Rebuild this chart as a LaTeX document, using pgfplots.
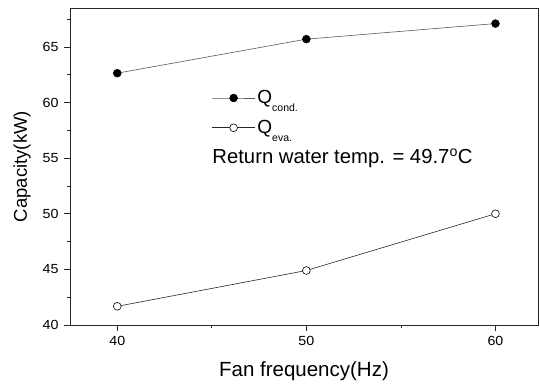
\documentclass[border=0pt]{standalone}
\usepackage{fontspec}
\setmainfont{Liberation Sans}
\newfontfamily\wide{Liberation Sans}[FakeStretch=1.08]
\usepackage{pgfplots}
\pgfplotsset{compat=1.18}
\begin{document}
\begin{tikzpicture}[x=1pt,y=1pt]
\useasboundingbox (-70,-58) rectangle (470,325);
\begin{axis}[
  at={(0,0)}, anchor=south west,
  scale only axis, width=468pt, height=317pt,
  xmin=37.5, xmax=62.25, ymin=40, ymax=68.5,
  xtick={40,50,60}, minor xtick={45,55},
  ytick={40,45,50,55,60,65}, minor ytick={42.5,47.5,52.5,57.5,62.5,67.5},
  tick align=outside, tick pos=left,
  major tick length=6pt, minor tick length=3pt,
  axis line style={black!85, line width=0.8pt},
  every tick/.style={black!85, line width=0.7pt},
  tick label style={font=\wide\fontsize{13.2}{14}\selectfont},
  yticklabel style={xshift=-2pt},
  xticklabel style={yshift=-2pt},
  /pgf/number format/assume math mode=true,
  xlabel={Fan frequency(Hz)}, ylabel={Capacity(kW)},
  xlabel style={font=\fontsize{20.5}{22}\selectfont, at={(axis description cs:0.5,-0.164)}, anchor=base},
  ylabel style={font=\fontsize{18.5}{20}\selectfont, at={(axis description cs:-0.1026,0.5)}, anchor=center},
  legend style={at={(axis cs:44.99,61.27)}, anchor=north west, draw=none, fill=none,
    font=\fontsize{19}{20}\selectfont, row sep=11pt, inner sep=0pt,
    /tikz/every even column/.append style={column sep=4pt}},
  legend cell align=left,
  legend image code/.code={
    \draw[#1, mark repeat=2, mark phase=2] plot coordinates {(0pt,0pt) (21.5pt,0pt) (43pt,0pt)};
  },
]
\addplot[gray!70!black, line width=0.6pt, mark=*, mark size=3.9pt, mark options={fill=black, draw=black}]
  coordinates {(40,62.64) (50,65.7) (60,67.1)};
\addlegendentry{Q\raisebox{-0.8ex}{\fontsize{10.5}{10}\selectfont cond.}}
\addplot[black!85, line width=0.6pt, mark=*, mark size=3.9pt, mark options={fill=white, draw=black, line width=0.6pt}]
  coordinates {(40,41.68) (50,44.9) (60,50.0)};
\addlegendentry{Q\raisebox{-0.8ex}{\fontsize{10.5}{10}\selectfont eva.}}
\node[anchor=west, font=\fontsize{20.3}{22}\selectfont, inner sep=0pt] at (axis cs:45.02,55.0) {Return water temp. = 49.7\textsuperscript{o}C};
\end{axis}
\end{tikzpicture}
\end{document}
